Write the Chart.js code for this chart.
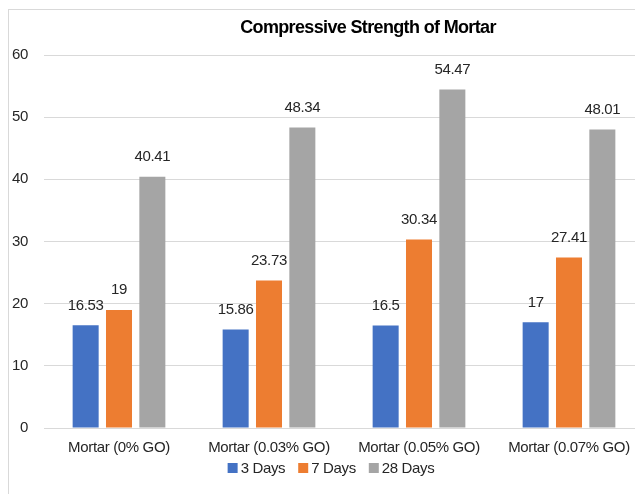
<!DOCTYPE html>
<html>
<head>
<meta charset="utf-8">
<script src="https://cdn.jsdelivr.net/npm/chart.js@4.4.1/dist/chart.umd.min.js"></script>
<style>
  html, body { margin: 0; padding: 0; background: #fff; overflow: hidden; width: 635px; height: 494px; }
  #frame { position: absolute; left: 8px; top: 9px; width: 900px; height: 700px; border: 1px solid #d9d9d9; box-sizing: border-box; pointer-events: none; }
  #c { position: absolute; left: 0; top: 0; }
</style>
</head>
<body>
<div id="frame"></div>
<canvas id="c" width="736" height="494"></canvas>
<script>
const TITLE = 'Compressive Strength of Mortar';
const categories = ['Mortar (0% GO)', 'Mortar (0.03% GO)', 'Mortar (0.05% GO)', 'Mortar (0.07% GO)'];
const seriesNames = ['3 Days', '7 Days', '28 Days'];
const days3 = [16.53, 15.86, 16.5, 17];
const days7 = [19, 23.73, 30.34, 27.41];
const days28 = [40.41, 48.34, 54.47, 48.01];
const yTicks = [0, 10, 20, 30, 40, 50, 60];
const colors = ['#4472C4', '#ED7D31', '#A5A5A5'];

const FONT = '"Liberation Sans", Arial, sans-serif';
const SPACING = '-0.35px';

const labelPlugin = {
  id: 'extras',
  beforeLayout(chart) { chart.ctx.letterSpacing = SPACING; },
  beforeDraw(chart) { chart.ctx.letterSpacing = SPACING; },
  afterDatasetsDraw(chart) {
    const ctx = chart.ctx;
    ctx.save();
    ctx.letterSpacing = SPACING;
    ctx.font = '15px ' + FONT;
    ctx.fillStyle = '#262626';
    ctx.textAlign = 'center';
    ctx.textBaseline = 'alphabetic';
    chart.data.datasets.forEach((ds, i) => {
      const meta = chart.getDatasetMeta(i);
      meta.data.forEach((bar, j) => {
        ctx.fillText(String(ds.data[j]), bar.x, bar.y - 15.5);
      });
    });
    ctx.restore();
  },
  afterDraw(chart) {
    const ctx = chart.ctx;
    ctx.save();
    // title
    ctx.letterSpacing = '-0.65px';
    ctx.font = 'bold 18px ' + FONT;
    ctx.fillStyle = '#000';
    ctx.textAlign = 'center';
    ctx.textBaseline = 'alphabetic';
    ctx.fillText(TITLE, 368, 33);
    // legend
    ctx.letterSpacing = SPACING;
    ctx.font = '15px ' + FONT;
    ctx.textAlign = 'left';
    ctx.textBaseline = 'middle';
    const box = 10, gapText = 3, gapItem = 13;
    const items = chart.data.datasets.map(ds => ({ label: ds.label, color: ds.backgroundColor, w: ctx.measureText(ds.label).width }));
    const total = items.reduce((s, it) => s + box + gapText + it.w, 0) + gapItem * (items.length - 1);
    let x = 331 - total / 2;
    const y = 468;
    items.forEach(it => {
      ctx.fillStyle = it.color;
      ctx.fillRect(x, y - box / 2, box, box);
      ctx.fillStyle = '#262626';
      ctx.fillText(it.label, x + box + gapText, y + 0.5);
      x += box + gapText + it.w + gapItem;
    });
    ctx.restore();
  }
};

new Chart(document.getElementById('c'), {
  type: 'bar',
  data: {
    labels: categories,
    datasets: [
      { label: seriesNames[0], data: days3, backgroundColor: colors[0] },
      { label: seriesNames[1], data: days7, backgroundColor: colors[1] },
      { label: seriesNames[2], data: days28, backgroundColor: colors[2] }
    ]
  },
  options: {
    responsive: false,
    animation: false,
    devicePixelRatio: 1,
    layout: { padding: { top: 55, right: 92, left: 0, bottom: 0 } },
    datasets: { bar: { categoryPercentage: 0.667, barPercentage: 0.78 } },
    plugins: {
      legend: { display: false },
      title: { display: false },
      tooltip: { enabled: false }
    },
    scales: {
      x: {
        grid: { display: false, drawTicks: false },
        border: { display: false },
        ticks: { font: { family: FONT, size: 15 }, color: '#262626', padding: 11, maxRotation: 0, autoSkip: false },
        afterFit(scale) { scale.height = 66; }
      },
      y: {
        min: 0, max: 60,
        afterBuildTicks(scale) { scale.ticks = yTicks.map(v => ({ value: v })); },
        grid: { color: '#d9d9d9', lineWidth: 1, drawTicks: false },
        border: { display: false },
        ticks: { font: { family: FONT, size: 15 }, color: '#262626', padding: 16 },
        afterFit(scale) { scale.width = 44; }
      }
    }
  },
  plugins: [labelPlugin]
});
</script>
</body>
</html>
